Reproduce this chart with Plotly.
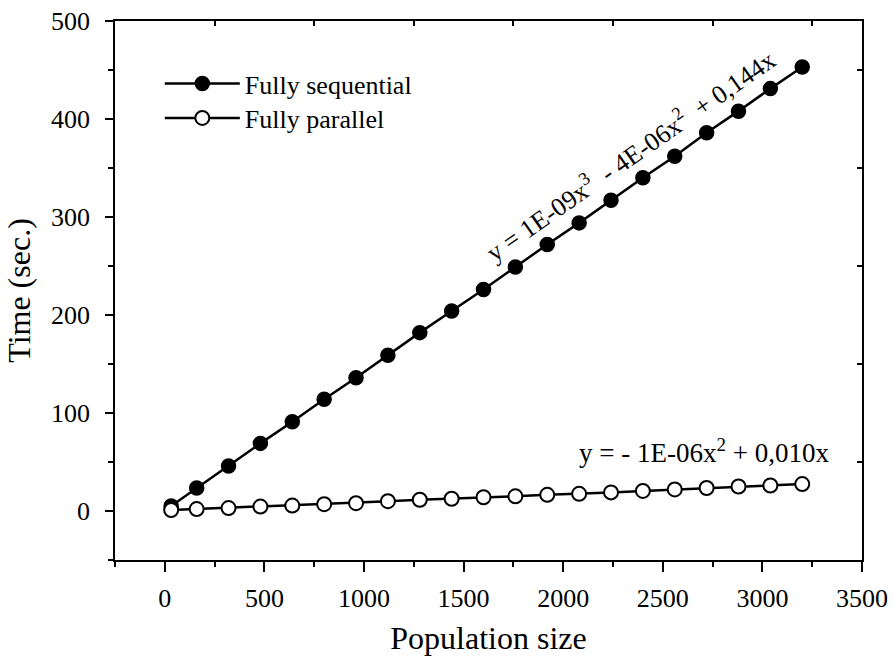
import plotly.graph_objects as go

pop_size = [32, 160, 320, 480, 640, 800, 960, 1120, 1280, 1440, 1600, 1760, 1920,
            2080, 2240, 2400, 2560, 2720, 2880, 3040, 3200]
time_sequential = [5, 23.5, 46, 69, 91, 114, 136, 159, 182, 204, 226, 249, 272,
                   294, 317, 340, 362, 386, 408, 431, 453]
time_parallel = [1, 2, 3, 4.5, 5.5, 7, 8, 10, 11.5, 12.5, 14, 15, 16.5,
                 17.5, 19, 20.5, 22, 23.5, 25, 26, 27.5]

x_major = [0, 500, 1000, 1500, 2000, 2500, 3000, 3500]
y_major = [0, 100, 200, 300, 400, 500]
x_minor = [250, 750, 1250, 1750, 2250, 2750, 3250]
y_minor = [-50, 50, 150, 250, 350, 450]

FONT = "Liberation Serif"

fig = go.Figure()
fig.add_trace(go.Scatter(
    x=pop_size, y=time_sequential, mode="lines+markers", name="Fully sequential",
    line=dict(color="black", width=2.5),
    marker=dict(symbol="circle", size=14, color="black", line=dict(color="black", width=1.5)),
    legend="legend"))
fig.add_trace(go.Scatter(
    x=pop_size, y=time_parallel, mode="lines+markers", name="Fully parallel",
    line=dict(color="black", width=2.5),
    marker=dict(symbol="circle", size=14, color="white", line=dict(color="black", width=2)),
    legend="legend2"))
# helper trace so the mirrored tick axes are drawn
fig.add_trace(go.Scatter(x=[None], y=[None], xaxis="x2", yaxis="y2",
                         showlegend=False, hoverinfo="skip"))

axis_line = dict(showgrid=False, zeroline=False, showline=True, linecolor="black",
                 linewidth=1.5, tickcolor="black", tickwidth=1.5, automargin=False)
tickfont = dict(family=FONT, size=26, color="black")

fig.update_layout(
    width=894, height=663,
    margin=dict(l=115, r=32, t=21, b=103),
    paper_bgcolor="white", plot_bgcolor="white",
    font=dict(family=FONT, color="black"),
    xaxis=dict(range=[-250, 3500], tickvals=x_major, ticks="outside", ticklen=10,
               minor=dict(tickvals=[-250] + x_minor, ticks="outside", ticklen=5,
                          tickcolor="black", tickwidth=1.5),
               ticklabelstandoff=4, tickfont=tickfont,
               title=dict(text="Population size", font=dict(family=FONT, size=32), standoff=15),
               **axis_line),
    yaxis=dict(range=[-50, 500], tickvals=y_major, ticks="outside", ticklen=8,
               minor=dict(tickvals=y_minor, ticks="outside", ticklen=5,
                          tickcolor="black", tickwidth=1.5),
               ticklabelstandoff=10, tickfont=tickfont,
               title=dict(text="Time (sec.)", font=dict(family=FONT, size=32), standoff=11),
               **axis_line),
    xaxis2=dict(range=[-250, 3500], overlaying="x", side="top", anchor="y2",
                tickvals=x_minor, ticks="inside", ticklen=5, showticklabels=False,
                **axis_line),
    yaxis2=dict(range=[-50, 500], overlaying="y", side="right", anchor="x2",
                tickvals=y_minor, ticks="inside", ticklen=5, showticklabels=False,
                **axis_line),
    legend=dict(x=0.06, y=0.884, xanchor="left", yanchor="middle", itemwidth=75,
                bgcolor="rgba(0,0,0,0)", font=dict(family=FONT, size=26)),
    legend2=dict(x=0.06, y=0.82, xanchor="left", yanchor="middle", itemwidth=75,
                 bgcolor="rgba(0,0,0,0)", font=dict(family=FONT, size=26)),
    showlegend=True,
)

fig.add_annotation(x=0.69, y=0.752, xref="paper", yref="paper",
                   xanchor="center", yanchor="middle",
                   text="y = 1E-09x<sup>3</sup>  - 4E-06x<sup>2</sup>  + 0,144x",
                   showarrow=False, textangle=-35,
                   font=dict(family=FONT, size=26, color="black"))
fig.add_annotation(x=0.788, y=0.202, xref="paper", yref="paper",
                   xanchor="center", yanchor="middle",
                   text="y = - 1E-06x<sup>2</sup> + 0,010x",
                   showarrow=False,
                   font=dict(family=FONT, size=27, color="black"))

fig.write_html("out.html")
